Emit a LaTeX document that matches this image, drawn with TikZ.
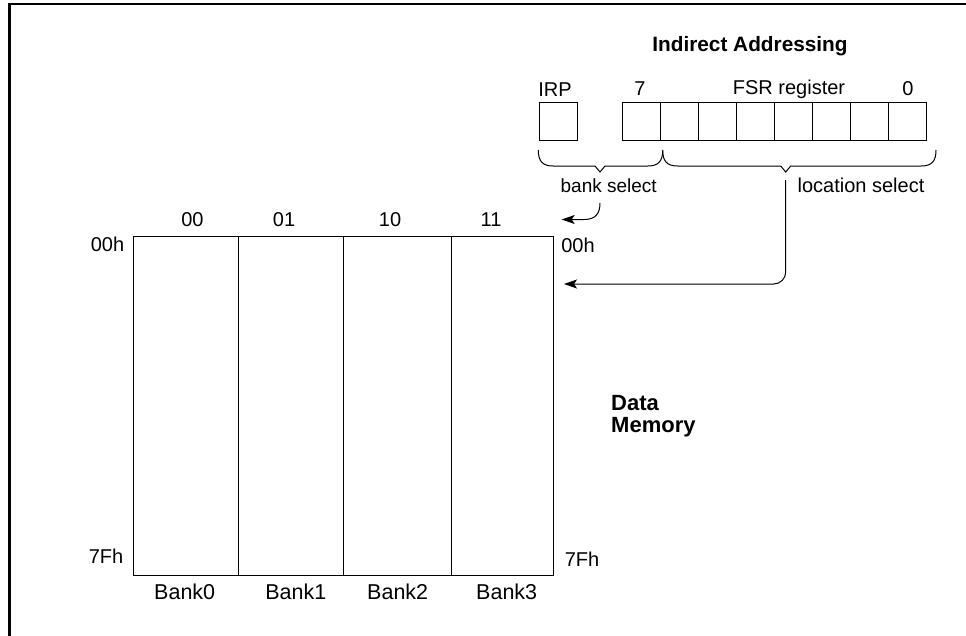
\documentclass[tikz,border=0pt]{standalone}
\usepackage{fontspec}
\setmainfont{Liberation Sans}
\usetikzlibrary{arrows.meta}
\begin{document}
\begin{tikzpicture}[x=1pt,y=-1pt,
  lbl/.style={inner sep=0pt, font=\fontsize{20}{24}\selectfont},
  blbl/.style={inner sep=0pt, font=\fontsize{20.8}{24}\selectfont\bfseries},
  banklbl/.style={inner sep=0pt, font=\fontsize{21.5}{24}\selectfont},
  cell/.style={draw, line width=1pt, inner sep=0pt, anchor=north west, minimum height=339.3pt},
  bit/.style={draw, line width=1pt, inner sep=0pt, anchor=north west, minimum width=38pt, minimum height=37.7pt},
  arr/.style={line width=1pt, -{Stealth[length=13pt,width=9pt,inset=3pt]}},
  bracestyle/.style={line width=1pt},
]
\useasboundingbox (0,0) rectangle (966,635);
% frame
\draw[line width=2.8pt] (975,4) -- (9.3,4) -- (9.3,645);

% title
\node[blbl] (title) at (750,46) {Indirect Addressing};

% register
\node[bit] (irp) at (539.3,102.3) {};
\foreach \i in {0,...,7} {
  \node[bit] (f\i) at (621.7+38*\i,102.3) {};
}
\node[lbl] (irplbl) at (555,90) {IRP};
\node[lbl] (seven) at (640,89) {7};
\node[lbl] (fsrlbl) at (789,89) {FSR register};
\node[lbl] (zero) at (908,89) {0};

% braces
\draw[bracestyle] (538.3,150) .. controls (538.3,161) and (542.3,166) .. (553.3,166) -- (595,166) -- (600,172) -- (605,166) -- (647.7,166) .. controls (658.7,166) and (662.7,161) .. (662.7,150);
\draw[bracestyle] (662.7,150) .. controls (662.7,161) and (666.7,166) .. (677.7,166) -- (780.7,166) -- (785.7,172) -- (790.7,166) -- (921,166) .. controls (932,166) and (936,161) .. (936,150);
\node[lbl, font=\fontsize{19}{24}\selectfont] (bsel) at (608.7,185.5) {bank select};
\node[lbl] (lsel) at (861,185.5) {location select};

% memory
\node[cell, minimum width=105pt] (bank0) at (133.3,235.7) {};
\node[cell, minimum width=105pt] (bank1) at (238.3,235.7) {};
\node[cell, minimum width=107.4pt] (bank2) at (343.3,235.7) {};
\node[cell, minimum width=102.6pt] (bank3) at (450.7,235.7) {};

\node[lbl] (c00) at (192.5,219.5) {00};
\node[lbl] (c01) at (284,219.5) {01};
\node[lbl] (c10) at (390,219.5) {10};
\node[lbl] (c11) at (491,219.5) {11};

\node[lbl] (ltop) at (107.5,244) {00h};
\node[lbl] (lbot) at (106,556) {7Fh};
\node[lbl] (rtop) at (578,245) {00h};
\node[lbl] (rbot) at (582,559) {7Fh};

\node[banklbl] (n0) at (184.7,592) {Bank0};
\node[banklbl] (n1) at (295.8,592) {Bank1};
\node[banklbl] (n2) at (397.7,592) {Bank2};
\node[banklbl] (n3) at (506.7,592) {Bank3};

\node[inner sep=0pt, align=left, anchor=north west, font=\fontsize{22}{21.5}\selectfont\bfseries] (dm) at (611,395.5) {Data\\Memory};

% connectors
\coordinate (bsStart) at (600,203);
\coordinate (bsEnd) at (561.7,219.5);
\draw[arr] (bsStart) .. controls (600,213) and (596,219.5) .. (584,219.5) -- (bsEnd);
\coordinate (lsStart) at (785.7,180);
\coordinate (lsEnd) at (564,284);
\draw[arr, rounded corners=12pt] (lsStart) |- (lsEnd);
\end{tikzpicture}
\end{document}
